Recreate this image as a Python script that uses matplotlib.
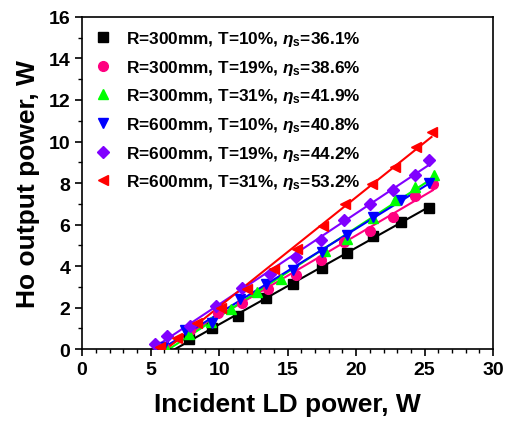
import numpy as np
import matplotlib
matplotlib.use("Agg")
import matplotlib.pyplot as plt
from matplotlib.ticker import MultipleLocator

plt.rcParams['font.family'] = ['Liberation Sans', 'DejaVu Sans']
plt.rcParams['font.weight'] = 'bold'
plt.rcParams['mathtext.fontset'] = 'custom'
plt.rcParams['mathtext.rm'] = 'Liberation Sans:bold'
plt.rcParams['mathtext.it'] = 'Liberation Sans:bold:italic'
plt.rcParams['mathtext.bf'] = 'Liberation Sans:bold'

# data (incident power W, output power W)
x_300_10 = [7.8, 9.5, 11.4, 13.4, 15.4, 17.5, 19.3, 21.2, 23.3, 25.3]
y_300_10 = [0.48, 1.0, 1.6, 2.47, 3.12, 3.92, 4.63, 5.43, 6.14, 6.8]

x_300_19 = [6.0, 7.9, 9.9, 11.7, 13.6, 15.6, 17.4, 19.1, 21.0, 22.7, 24.3, 25.6]
y_300_19 = [0.1, 0.9, 1.72, 2.22, 2.89, 3.58, 4.29, 5.14, 5.7, 6.35, 7.36, 7.93]

x_300_31 = [6.1, 7.8, 9.4, 10.9, 12.8, 14.5, 17.7, 19.3, 21.2, 22.8, 24.3, 25.7]
y_300_31 = [0.05, 0.72, 1.3, 1.93, 2.73, 3.37, 4.74, 5.3, 6.31, 7.2, 7.79, 8.39]

x_600_10 = [5.9, 7.5, 9.5, 11.5, 13.4, 15.4, 17.5, 19.3, 21.2, 23.3, 25.3]
y_600_10 = [0.1, 0.9, 1.25, 2.41, 3.13, 3.82, 4.69, 5.49, 6.38, 7.18, 8.0]

x_600_19 = [5.3, 6.2, 7.9, 9.8, 11.7, 13.7, 15.6, 17.4, 19.1, 21.0, 22.7, 24.3, 25.3]
y_600_19 = [0.24, 0.62, 1.12, 2.09, 2.94, 3.6, 4.46, 5.25, 6.23, 6.99, 7.68, 8.4, 9.1]

x_600_31 = [5.7, 6.9, 8.4, 10.1, 12.0, 14.0, 15.7, 17.6, 19.2, 21.15, 22.85, 24.4, 25.5]
y_600_31 = [0.1, 0.56, 1.28, 1.96, 2.9, 3.86, 4.82, 5.94, 6.99, 7.94, 8.79, 9.72, 10.47]

labels = [r'R=300mm, T=10%, $\it{\eta}_\mathrm{s}$=36.1%',
          r'R=300mm, T=19%, $\it{\eta}_\mathrm{s}$=38.6%',
          r'R=300mm, T=31%, $\it{\eta}_\mathrm{s}$=41.9%',
          r'R=600mm, T=10%, $\it{\eta}_\mathrm{s}$=40.8%',
          r'R=600mm, T=19%, $\it{\eta}_\mathrm{s}$=44.2%',
          r'R=600mm, T=31%, $\it{\eta}_\mathrm{s}$=53.2%']

series = [(x_300_10, y_300_10, 's', 'black'),
          (x_300_19, y_300_19, 'o', '#FF0080'),
          (x_300_31, y_300_31, '^', '#00FF00'),
          (x_600_10, y_600_10, 'v', '#0000FF'),
          (x_600_19, y_600_19, 'D', '#8000FF'),
          (x_600_31, y_600_31, '<', '#FF0000')]

fig = plt.figure(figsize=(5.1, 4.27), dpi=100)
ax = fig.add_axes([0.161, 0.180, 0.806, 0.778])

handles = []
for (xs, ys, m, c), lab in zip(series, labels):
    xs = np.array(xs)
    ys = np.array(ys)
    k, b = np.polyfit(xs, ys, 1)
    # fitted line from where it crosses zero up to the last point
    xf = np.array([-b / k, xs.max()])
    ax.plot(xf, k * xf + b, color=c, lw=1.5, zorder=2)
    ms = 6 if m == 'D' else 7
    h, = ax.plot(xs, ys, ls='none', marker=m, color=c, ms=ms, zorder=3, label=lab)
    handles.append(h)

ax.set_xlim(0, 30)
ax.set_ylim(0, 16)
ax.xaxis.set_major_locator(MultipleLocator(5))
ax.xaxis.set_minor_locator(MultipleLocator(1))
ax.yaxis.set_major_locator(MultipleLocator(2))
ax.yaxis.set_minor_locator(MultipleLocator(1))
ax.tick_params(which='major', direction='out', length=5, width=1.2, labelsize=14)
ax.tick_params(which='minor', direction='out', length=3, width=1.0)
for sp in ax.spines.values():
    sp.set_linewidth(1.2)
for t in ax.get_xticklabels() + ax.get_yticklabels():
    t.set_fontweight('bold')

ax.set_xlabel('Incident LD power, W', fontsize=19, fontweight='bold', labelpad=10)
ax.set_ylabel('Ho output power, W', fontsize=19, fontweight='bold', labelpad=6)

leg = ax.legend(handles=handles, loc='upper left', frameon=False, fontsize=12.4,
                handlelength=1.0, handletextpad=0.85, labelspacing=0.56,
                borderaxespad=0.3, bbox_to_anchor=(0.0, 1.0))

fig.savefig('out.png', dpi=100)
